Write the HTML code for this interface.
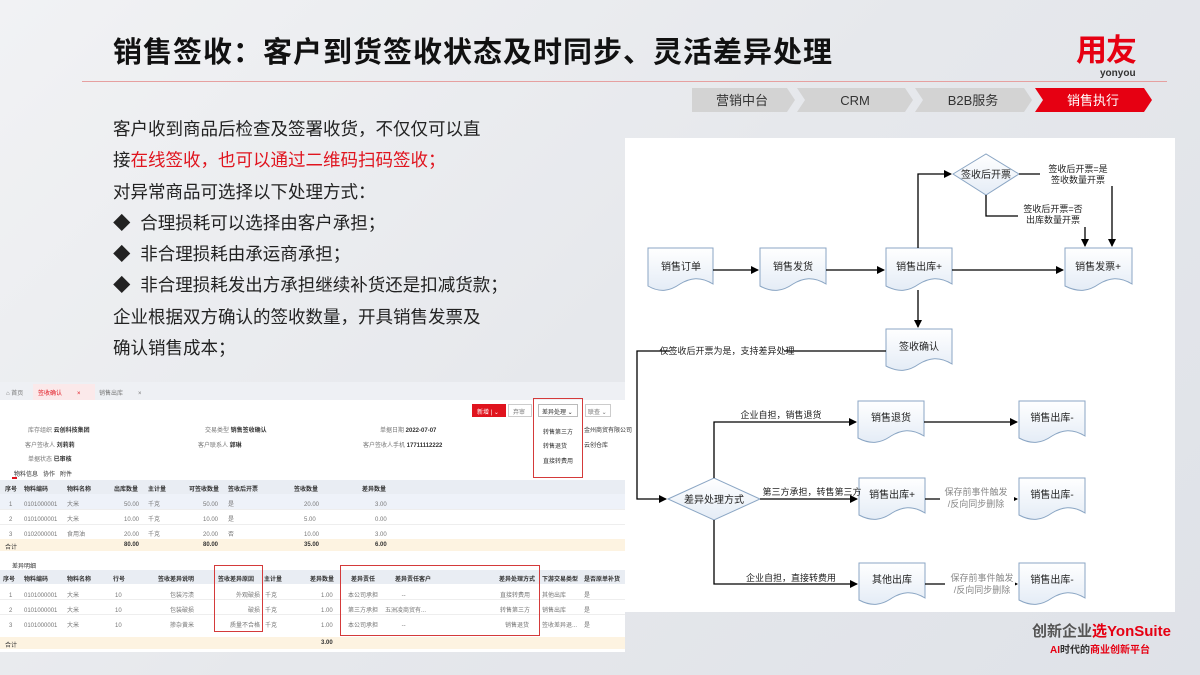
<!DOCTYPE html>
<html><head><meta charset="utf-8">
<style>
*{margin:0;padding:0;box-sizing:border-box}
body{width:1200px;height:675px;overflow:hidden;position:relative;font-family:"Liberation Sans","Noto Sans CJK SC",sans-serif;background:linear-gradient(135deg,#f1f2f4 0%,#e6e8ec 50%,#dfe2e8 100%)}
.abs{position:absolute}
.title{left:113px;top:35px;font-size:29px;line-height:36px;font-weight:bold;color:#111;letter-spacing:1px;white-space:nowrap}
.body{left:113px;top:114px;font-size:17.5px;line-height:31.3px;color:#222;white-space:nowrap}
.red{color:#e0141e}
.ss{font-size:6px;color:#333;white-space:nowrap}
.sg{font-size:6px;color:#777;white-space:nowrap}
.hd{background:#e9edf3}
.h{position:absolute;top:574px;font-size:6px;font-weight:bold;color:#333;white-space:nowrap}
</style></head><body>
<div class="abs title">销售签收：客户到货签收状态及时同步、灵活差异处理</div>
<div class="abs" style="left:82px;top:81px;width:1085px;height:1px;background:#e6a0a0"></div>
<div class="abs" style="left:1076px;top:35px;font-size:31px;line-height:31px;font-weight:bold;color:#e60012;letter-spacing:-1px">用友</div>
<div class="abs" style="left:1100px;top:68px;font-size:10px;line-height:11px;font-weight:bold;color:#333">yonyou</div>
<svg class="abs" style="left:0;top:0" width="1200" height="130">
<polygon points="692,88 787,88 795,100 787,112 692,112" fill="#d3d3d3"/>
<polygon points="797,88 905,88 913,100 905,112 797,112 805,100" fill="#d3d3d3"/>
<polygon points="915,88 1024,88 1032,100 1024,112 915,112 923,100" fill="#d3d3d3"/>
<polygon points="1035,88 1144,88 1152,100 1144,112 1035,112 1043,100" fill="#e60012"/>
<text x="742" y="105" font-size="13" text-anchor="middle" fill="#333" font-family="Liberation Sans,Noto Sans CJK SC,sans-serif">营销中台</text>
<text x="855" y="105" font-size="13" text-anchor="middle" fill="#333" font-family="Liberation Sans,Noto Sans CJK SC,sans-serif">CRM</text>
<text x="973" y="105" font-size="13" text-anchor="middle" fill="#333" font-family="Liberation Sans,Noto Sans CJK SC,sans-serif">B2B服务</text>
<text x="1093" y="105" font-size="13" text-anchor="middle" fill="#fff" font-family="Liberation Sans,Noto Sans CJK SC,sans-serif">销售执行</text>
</svg>
<div class="abs body">客户收到商品后检查及签署收货，不仅仅可以直<br>接<span class="red">在线签收，也可以通过二维码扫码签收；</span><br>对异常商品可选择以下处理方式：<br>◆&nbsp; 合理损耗可以选择由客户承担；<br>◆&nbsp; 非合理损耗由承运商承担；<br>◆&nbsp; 非合理损耗发出方承担继续补货还是扣减货款；<br>企业根据双方确认的签收数量，开具销售发票及<br>确认销售成本；</div>

<svg class="abs" style="left:0;top:0" width="1200" height="675" font-family="Liberation Sans,Noto Sans CJK SC,sans-serif">
<defs>
<linearGradient id="dg" x1="0" y1="0" x2="0" y2="1"><stop offset="0" stop-color="#fff"/><stop offset="1" stop-color="#e4ecf6"/></linearGradient>
<marker id="ar" markerWidth="8" markerHeight="8" refX="7" refY="4" orient="auto" markerUnits="userSpaceOnUse"><path d="M0,0 L8,4 L0,8 z" fill="#000"/></marker>
</defs>
<rect x="625" y="138" width="550" height="474" fill="#fff"/>
<g fill="url(#dg)" stroke="#8ba6c4" stroke-width="1">
<path d="M648,248 H713 V284 C700,276 690,278 680,284 C670,291 660,293 648,286 Z"/>
<path d="M760,248 H826 V284 C813,276 803,278 793,284 C783,291 773,293 760,286 Z"/>
<path d="M886,248 H952 V284 C939,276 929,278 919,284 C909,291 899,293 886,286 Z"/>
<path d="M1065,248 H1132 V284 C1119,276 1109,278 1099,284 C1089,291 1079,293 1065,286 Z"/>
<path d="M886,329 H952 V364 C939,356 929,358 919,364 C909,371 899,373 886,366 Z"/>
<path d="M858,401 H924 V436 C911,428 901,430 891,436 C881,443 871,445 858,438 Z"/>
<path d="M1019,401 H1085 V436 C1072,428 1062,430 1052,436 C1042,443 1032,445 1019,438 Z"/>
<path d="M859,478 H925 V513 C912,505 902,507 892,513 C882,520 872,522 859,515 Z"/>
<path d="M1019,478 H1085 V513 C1072,505 1062,507 1052,513 C1042,520 1032,522 1019,515 Z"/>
<path d="M859,563 H925 V598 C912,590 902,592 892,598 C882,605 872,607 859,600 Z"/>
<path d="M1019,563 H1085 V598 C1072,590 1062,592 1052,598 C1042,605 1032,607 1019,600 Z"/>
<polygon points="953,174 986,154 1019,174 986,195"/>
<polygon points="668,499 714,478 760,499 714,520"/>
</g>
<g stroke="#000" stroke-width="1.3" fill="none" marker-end="url(#ar)">
<path d="M713,270 H758"/>
<path d="M826,270 H884"/>
<path d="M952,270 H1063"/>
<path d="M918,248 V174 H951"/>
<path d="M1019,174 H1112 V246"/>
<path d="M986,195 V216 H1085 V246"/>
<path d="M918,290 V327"/>
<path d="M886,351 H637 V499 H666"/>
<path d="M714,478 V422 H856"/>
<path d="M760,499 H857"/>
<path d="M714,520 V584 H857"/>
<path d="M924,422 H1017"/>
<path d="M925,499 H1017"/>
<path d="M925,584 H1017"/>
</g>
<g font-size="9" fill="#222">
<rect x="1040" y="162" width="76" height="24" fill="#fff"/>
<text x="1078" y="172" text-anchor="middle">签收后开票=是</text>
<text x="1078" y="183" text-anchor="middle">签收数量开票</text>
<rect x="1018" y="203" width="70" height="24" fill="#fff"/>
<text x="1053" y="212" text-anchor="middle">签收后开票=否</text>
<text x="1053" y="223" text-anchor="middle">出库数量开票</text>
<rect x="670" y="344" width="114" height="13" fill="#fff"/>
<text x="727" y="354" text-anchor="middle">仅签收后开票为是，支持差异处理</text>
<text x="781" y="418" text-anchor="middle">企业自担，销售退货</text>
<text x="812" y="495" text-anchor="middle">第三方承担，转售第三方</text>
<text x="791" y="581" text-anchor="middle">企业自担，直接转费用</text>
<rect x="940" y="485" width="74" height="26" fill="#fff"/>
<text x="976" y="495" text-anchor="middle" fill="#888">保存前事件触发</text>
<text x="976" y="507" text-anchor="middle" fill="#888">/反向同步删除</text>
<rect x="945" y="571" width="70" height="26" fill="#fff"/>
<text x="982" y="581" text-anchor="middle" fill="#888">保存前事件触发</text>
<text x="982" y="593" text-anchor="middle" fill="#888">/反向同步删除</text>
</g>
<g font-size="10" fill="#222" text-anchor="middle">
<text x="681" y="270">销售订单</text>
<text x="793" y="270">销售发货</text>
<text x="919" y="270">销售出库+</text>
<text x="1098" y="270">销售发票+</text>
<text x="919" y="350">签收确认</text>
<text x="986" y="178">签收后开票</text>
<text x="714" y="503">差异处理方式</text>
<text x="891" y="421">销售退货</text>
<text x="1052" y="421">销售出库-</text>
<text x="892" y="498">销售出库+</text>
<text x="1052" y="498">销售出库-</text>
<text x="892" y="583">其他出库</text>
<text x="1052" y="583">销售出库-</text>
</g>
</svg>

<div class="abs" style="left:0;top:382px;width:625px;height:270px;background:#fff"></div>
<div class="abs" style="left:0;top:382px;width:625px;height:18px;background:#eef0f4"></div>
<div class="abs" style="left:33px;top:384px;width:62px;height:16px;background:#fbe9ea"></div>
<div class="abs sg" style="left:6px;top:388px">⌂ 首页</div>
<div class="abs ss" style="left:38px;top:388px;color:#e0141e">签收确认 &nbsp; &nbsp; &nbsp; &nbsp; ×</div>
<div class="abs sg" style="left:99px;top:388px">销售出库 &nbsp; &nbsp; &nbsp; &nbsp; ×</div>
<div class="abs" style="left:472px;top:404px;width:34px;height:13px;background:#e0141e"></div>
<div class="abs ss" style="left:477px;top:407px;color:#fff">新增 | ⌄</div>
<div class="abs" style="left:508px;top:404px;width:24px;height:13px;border:1px solid #ccc"></div>
<div class="abs sg" style="left:513px;top:407px">弃审</div>
<div class="abs" style="left:538px;top:404px;width:40px;height:13px;border:1px solid #bbb"></div>
<div class="abs ss" style="left:542px;top:407px">差异处理 ⌄</div>
<div class="abs" style="left:585px;top:404px;width:26px;height:13px;border:1px solid #ccc"></div>
<div class="abs sg" style="left:588px;top:407px">联查 ⌄</div>
<div class="abs" style="left:533px;top:398px;width:50px;height:80px;border:1.5px solid #d43a3a"></div>
<div class="abs ss" style="left:543px;top:427px">转售第三方</div>
<div class="abs ss" style="left:543px;top:441px">转售退货</div>
<div class="abs ss" style="left:543px;top:456px">直接转费用</div>
<div class="abs sg" style="left:28px;top:425px">库存组织 <b style="color:#333">云创科技集团</b></div>
<div class="abs sg" style="left:25px;top:440px">客户签收人 <b style="color:#333">刘莉莉</b></div>
<div class="abs sg" style="left:28px;top:454px">单据状态 <b style="color:#333">已审核</b></div>
<div class="abs sg" style="left:205px;top:425px">交易类型 <b style="color:#333">销售签收确认</b></div>
<div class="abs sg" style="left:198px;top:440px">客户联系人 <b style="color:#333">郭琳</b></div>
<div class="abs sg" style="left:380px;top:425px">单据日期 <b style="color:#333">2022-07-07</b></div>
<div class="abs sg" style="left:363px;top:440px">客户签收人手机 <b style="color:#333">17711112222</b></div>
<div class="abs ss" style="left:584px;top:425px">金州商贸有限公司</div>
<div class="abs ss" style="left:584px;top:440px">云创仓库</div>
<div class="abs ss" style="left:14px;top:469px">物料信息 &nbsp; 协作 &nbsp; 附件</div>
<div class="abs" style="left:12px;top:477px;width:5px;height:1.5px;background:#e0141e"></div>
<div class="abs hd" style="left:0;top:480px;width:625px;height:14px"></div>
<div class="abs" style="left:0;top:494px;width:625px;height:15px;background:#eef2f9"></div>
<div class="abs" style="left:0;top:509px;width:625px;height:1px;background:#eee"></div>
<div class="abs" style="left:0;top:524px;width:625px;height:1px;background:#eee"></div>
<div class="abs" style="left:0;top:539px;width:625px;height:12px;background:#fdf3e1"></div>
<div class="h" style="top:484px;left:5px">序号</div>
<div class="h" style="top:484px;left:24px">物料编码</div>
<div class="h" style="top:484px;left:67px">物料名称</div>
<div class="h" style="top:484px;left:114px">出库数量</div>
<div class="h" style="top:484px;left:148px">主计量</div>
<div class="h" style="top:484px;left:189px">可签收数量</div>
<div class="h" style="top:484px;left:228px">签收后开票</div>
<div class="h" style="top:484px;left:294px">签收数量</div>
<div class="h" style="top:484px;left:362px">差异数量</div>
<div class="abs sg" style="left:9px;top:498px;line-height:15px">1<br>2<br>3</div>
<div class="abs sg" style="left:24px;top:498px;line-height:15px">0101000001<br>0101000001<br>0102000001</div>
<div class="abs sg" style="left:67px;top:498px;line-height:15px">大米<br>大米<br>食用油</div>
<div class="abs sg" style="left:124px;top:498px;line-height:15px">50.00<br>10.00<br>20.00</div>
<div class="abs sg" style="left:148px;top:498px;line-height:15px">千克<br>千克<br>千克</div>
<div class="abs sg" style="left:203px;top:498px;line-height:15px">50.00<br>10.00<br>20.00</div>
<div class="abs sg" style="left:228px;top:498px;line-height:15px">是<br>是<br>否</div>
<div class="abs sg" style="left:304px;top:498px;line-height:15px">20.00<br>5.00<br>10.00</div>
<div class="abs sg" style="left:375px;top:498px;line-height:15px">3.00<br>0.00<br>3.00</div>
<div class="abs ss" style="left:5px;top:542px">合计</div>
<div class="abs ss" style="left:124px;top:542px;font-weight:bold">80.00</div>
<div class="abs ss" style="left:203px;top:542px;font-weight:bold">80.00</div>
<div class="abs ss" style="left:304px;top:542px;font-weight:bold">35.00</div>
<div class="abs ss" style="left:375px;top:542px;font-weight:bold">6.00</div>
<div class="abs ss" style="left:12px;top:561px">差异明细</div>
<div class="abs hd" style="left:0;top:570px;width:625px;height:14px"></div>
<div class="abs" style="left:0;top:599px;width:625px;height:1px;background:#eee"></div>
<div class="abs" style="left:0;top:614px;width:625px;height:1px;background:#eee"></div>
<div class="abs" style="left:0;top:637px;width:625px;height:12px;background:#fdf3e1"></div>
<div class="h" style="left:3px">序号</div>
<div class="h" style="left:24px">物料编码</div>
<div class="h" style="left:67px">物料名称</div>
<div class="h" style="left:113px">行号</div>
<div class="h" style="left:158px">签收差异说明</div>
<div class="h" style="left:218px">签收差异原因</div>
<div class="h" style="left:264px">主计量</div>
<div class="h" style="left:310px">差异数量</div>
<div class="h" style="left:351px">差异责任</div>
<div class="h" style="left:395px">差异责任客户</div>
<div class="h" style="left:499px">差异处理方式</div>
<div class="h" style="left:542px">下游交易类型</div>
<div class="h" style="left:584px">是否原单补货</div>
<div class="abs sg" style="left:9px;top:589px;line-height:15px">1<br>2<br>3</div>
<div class="abs sg" style="left:24px;top:589px;line-height:15px">0101000001<br>0101000001<br>0101000001</div>
<div class="abs sg" style="left:67px;top:589px;line-height:15px">大米<br>大米<br>大米</div>
<div class="abs sg" style="left:115px;top:589px;line-height:15px">10<br>10<br>10</div>
<div class="abs sg" style="left:170px;top:589px;line-height:15px">包装污渍<br>包装破损<br>掺杂黄米</div>
<div class="abs sg" style="left:230px;top:589px;line-height:15px;text-align:right">外观破损<br>破损<br>质量不合格</div>
<div class="abs sg" style="left:265px;top:589px;line-height:15px">千克<br>千克<br>千克</div>
<div class="abs sg" style="left:321px;top:589px;line-height:15px">1.00<br>1.00<br>1.00</div>
<div class="abs sg" style="left:348px;top:589px;line-height:15px">本公司承担<br>第三方承担<br>本公司承担</div>
<div class="abs sg" style="left:385px;top:589px;line-height:15px">&nbsp; &nbsp; &nbsp; &nbsp; &nbsp; --<br>五洲凌商贸有...<br>&nbsp; &nbsp; &nbsp; &nbsp; &nbsp; --</div>
<div class="abs sg" style="left:500px;top:589px;line-height:15px">直接转费用<br>转售第三方<br>&nbsp; &nbsp;销售退货</div>
<div class="abs sg" style="left:542px;top:589px;line-height:15px">其他出库<br>销售出库<br>签收差异退...</div>
<div class="abs sg" style="left:584px;top:589px;line-height:15px">是<br>是<br>是</div>
<div class="abs ss" style="left:5px;top:640px">合计</div>
<div class="abs ss" style="left:321px;top:640px;font-weight:bold">3.00</div>
<div class="abs" style="left:214px;top:565px;width:49px;height:67px;border:1.5px solid #d43a3a"></div>
<div class="abs" style="left:340px;top:565px;width:200px;height:71px;border:1.5px solid #d43a3a"></div>

<div class="abs" style="left:1032px;top:620px;font-size:15px;color:#555;font-weight:bold;white-space:nowrap">创新企业<span style="color:#e60012">选YonSuite</span></div>
<div class="abs" style="left:1050px;top:641px;font-size:10px;color:#333;font-weight:bold;white-space:nowrap"><span style="color:#e60012">AI</span>时代的<span style="color:#e60012">商业创新平台</span></div>
</body></html>
